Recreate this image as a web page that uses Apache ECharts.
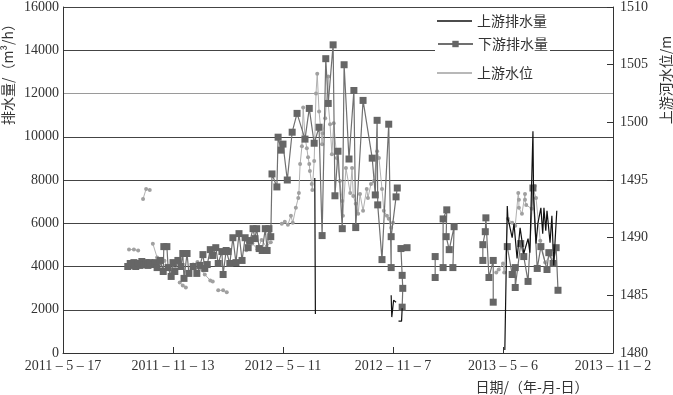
<!DOCTYPE html>
<html>
<head>
<meta charset="utf-8">
<script src="https://cdn.jsdelivr.net/npm/echarts@6/dist/echarts.min.js"></script>
<style>
html,body{margin:0;padding:0;background:#fff;}
#chart{width:673px;height:395px;}
</style>
</head>
<body>
<div id="chart"></div>
<script>
// x values: days after 2011-05-17; null = gap in the line
const startDate = [2011, 5, 17];
const xTickDays = [0, 180, 360, 540, 720, 900];

// 下游排水量 (m3/h)
const downDay = [106,110,113,116,119,123,126,129,133,136,139,142,147,151,154,159,164,165,170,172,177,180,183,188,193,196,198,203,206,213,219,224,229,232,236,241,245,250,254,260,262,267,270,273,278,283,288,293,298,303,306,311,314,317,321,326,331,334,337,340,342,350,352,357,360,367,375,383,396,403,411,419,424,430,434,442,445,450,457,460,468,476,479,491,506,511,514,515,522,533,537,537,545,547,null,
555,556,555,553,563,null,
609,609,null,
622,622,628,627,632,640,638,null,
687,687,691,692,697,704,704,null,
727,735,740,740,749,754,761,769,776,782,792,795,802,807,810];
const downVal = [4000,4140,4050,4180,4000,4140,4050,4230,4090,4180,4050,4180,4090,4180,3950,4280,3770,4920,4920,3950,3540,4180,3770,4280,4000,4600,3450,4600,3680,4000,3680,4050,4550,3910,4090,4780,4510,4870,4140,4690,3630,4740,4690,4140,5330,4180,5520,4280,5330,4870,5200,5750,5290,5750,4830,4740,5750,4740,5750,5380,8280,7680,9980,9380,9660,8000,10210,11080,9890,11310,9700,10440,5430,13610,11540,14250,7270,9330,5750,13330,8970,12140,5800,11680,9010,7310,10760,6850,4320,10580,3950,5380,7220,7630,null,
2120,2990,3590,4830,4870,null,
4460,3490,null,
3950,6200,6620,5380,4780,5840,3950,null,
4280,5010,5610,6250,3490,4280,2350,null,
4920,3630,3950,3030,5060,4460,3310,7630,3910,4920,3860,4640,4140,4870,2900];

// 上游排水量 (m3/h)
const upDay = [412,413,null,537,538,541,545,null,555,554,549,null,
723,727,728,735,738,743,748,754,761,764,769,770,774,777,782,785,787,790,792,797,800,803,808];
const upVal = [8090,1800,null,2670,1660,2440,2350,null,2070,1470,1470,null,
140,6800,6250,5330,5980,4370,5790,4600,5290,4640,10250,7360,5060,5980,6710,5520,6710,5660,6580,5100,6350,4050,6580];

// 上游水位 (m)
const levelDay = [108,116,123,null,131,136,142,null,147,154,160,166,172,177,null,191,196,201,null,
213,220,224,232,241,245,null,254,262,268,null,300,310,318,325,333,340,null,
358,363,368,373,376,381,385,386,388,391,393,396,399,401,403,404,407,408,411,414,416,419,424,425,429,434,434,437,440,443,448,453,457,458,463,470,473,475,479,483,486,491,497,499,504,509,514,517,522,525,530,533,537,540,null,
709,713,720,722,728,735,740,745,746,746,751,756,756,758,767,769,772,774,781,789,797,805];
const levelVal = [1488.97,1488.97,1488.88,null,1493.36,1494.22,1494.14,null,1489.48,1488.28,1487.8,1488.0,1487.3,1486.98,null,1486.12,1485.86,1485.69,null,
1487.67,1487.9,1487.33,1486.81,1486.29,1486.21,null,1485.43,1485.43,1485.26,null,1488.9,1489.5,1489.0,1489.8,1489.2,1489.6,null,
1491.21,1491.38,1491.12,1491.90,1491.29,1492.59,1493.45,1493.88,1496.38,1497.93,1501.29,1498.71,1497.76,1496.98,1496.38,1495.78,1494.66,1494.14,1496.64,1502.50,1504.22,1500.95,1498.10,1499.05,1500.35,1503.97,1501.64,1499.83,1497.24,1499.91,1496.90,1494.91,1493.19,1491.90,1496.03,1493.88,1496.03,1493.62,1492.93,1492.07,1493.79,1492.33,1494.22,1493.45,1494.66,1494.91,1497.50,1496.90,1494.22,1492.33,1491.90,1491.64,1490.86,1491.29,null,
1486.98,1487.24,1487.76,1486.98,1491.64,1491.29,1491.03,1493.88,1493.28,1492.59,1492.07,1493.79,1493.28,1492.84,1492.50,1494.31,1494.48,1493.45,1489.74,1487.84,1488.45,1487.84];

function pairs(xs, ys) {
  return xs.map((x, i) => (x === null ? ['-', '-'] : [x, ys[i]]));
}
function fmtDay(v) {
  const d = new Date(startDate[0], startDate[1] - 1, startDate[2] + Math.round(v));
  return d.getFullYear() + ' – ' + (d.getMonth() + 1) + ' – ' + d.getDate();
}
function plain(v) { return String(v); }

const serif = 'Liberation Serif';
const cjk = 'Noto Sans CJK SC';
const gridColors = ['#444','#444','#444','#444','#444','#444','#9a9a9a','#444','#444'];

const chart = echarts.init(document.getElementById('chart'));
chart.setOption({
  animation: false,
  backgroundColor: '#fff',
  grid: { left: 63, right: 60, top: 5, bottom: 42 },
  xAxis: {
    type: 'value', min: 0, max: 900, interval: 180,
    axisLine: { show: true, lineStyle: { color: '#333', width: 1 } },
    axisTick: { show: true, inside: true, length: 6, lineStyle: { color: '#333' } },
    splitLine: { show: false },
    axisLabel: { margin: 6, color: '#333', fontSize: 14, fontFamily: serif, formatter: fmtDay }
  },
  yAxis: [{
    type: 'value', min: 0, max: 16000, interval: 2000,
    axisLine: { show: true, lineStyle: { color: '#333', width: 1 } },
    axisTick: { show: false },
    splitLine: { show: true, lineStyle: { color: gridColors, width: 1 } },
    axisLabel: { margin: 4, color: '#333', fontSize: 14, fontFamily: serif, formatter: plain }
  }, {
    type: 'value', min: 1480, max: 1510, interval: 5, position: 'right',
    axisLine: { show: true, lineStyle: { color: '#333', width: 1 } },
    axisTick: { show: true, inside: true, length: 6, lineStyle: { color: '#333' } },
    splitLine: { show: false },
    axisLabel: { margin: 7, color: '#333', fontSize: 14, fontFamily: serif, formatter: plain }
  }],
  legend: [
    { data: [{ name: '上游排水量', icon: 'rect' }], left: 437, top: 14, padding: 0, itemWidth: 35, itemHeight: 1.5, selectedMode: false,
      textStyle: { fontSize: 14, fontFamily: cjk, color: '#333' } },
    { data: ['下游排水量'], left: 435, top: 35, padding: [2, 2, 6, 2], backgroundColor: '#fff', itemWidth: 35, itemHeight: 8, selectedMode: false,
      textStyle: { fontSize: 14, fontFamily: cjk, color: '#333' } },
    { data: [{ name: '上游水位', icon: 'rect' }], left: 437, top: 66, padding: 0, itemWidth: 35, itemHeight: 1.5, selectedMode: false,
      textStyle: { fontSize: 14, fontFamily: cjk, color: '#333' } }
  ],
  graphic: [
    { type: 'text', x: 8, y: 71, rotation: Math.PI / 2,
      style: { text: '排水量/（m³/h）', font: "14px 'Noto Sans CJK SC'", fill: '#333', align: 'center', verticalAlign: 'middle' } },
    { type: 'text', x: 666, y: 80, rotation: Math.PI / 2,
      style: { text: '上游河水位/m', font: "14px 'Noto Sans CJK SC'", fill: '#333', align: 'center', verticalAlign: 'middle' } },
    { type: 'text', x: 532, y: 387,
      style: { text: '日期/（年-月-日）', font: "14px 'Noto Sans CJK SC'", fill: '#333', align: 'center', verticalAlign: 'middle' } }
  ],
  series: [
    { name: '上游水位', type: 'line', yAxisIndex: 1, data: pairs(levelDay, levelVal),
      symbol: 'circle', symbolSize: 4, showSymbol: true, connectNulls: false,
      lineStyle: { color: '#b0b0b0', width: 1 }, itemStyle: { color: '#a0a0a0' }, z: 2 },
    { name: '下游排水量', type: 'line', yAxisIndex: 0, data: pairs(downDay, downVal),
      symbol: 'rect', symbolSize: 7, showSymbol: true, connectNulls: false,
      lineStyle: { color: '#707070', width: 1.2 }, itemStyle: { color: '#666' }, z: 3 },
    { name: '上游排水量', type: 'line', yAxisIndex: 0, data: pairs(upDay, upVal),
      symbol: 'none', showSymbol: false, connectNulls: false,
      lineStyle: { color: '#111', width: 1.2 }, itemStyle: { color: '#111' }, z: 4 }
  ]
});
</script>
</body>
</html>
